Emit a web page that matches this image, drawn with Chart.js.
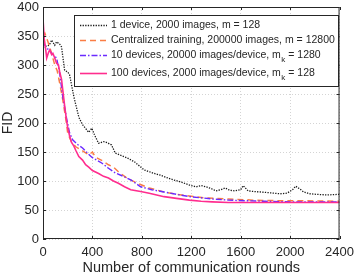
<!DOCTYPE html>
<html>
<head>
<meta charset="utf-8">
<script src="https://cdn.jsdelivr.net/npm/chart.js@4"></script>
<style>
  html, body { margin: 0; padding: 0; background: #fff; }
  #wrap { width: 360px; height: 277px; }
</style>
</head>
<body>
<div id="wrap"><canvas id="fid-chart" width="360" height="277"></canvas></div>
<script>
// 1 device, 2000 images
const roundsOne = [0, 30, 50, 70, 95, 110, 135, 150, 175, 200, 215, 250, 290, 320, 370, 395, 420, 450, 490, 520, 555, 585, 620, 680, 740, 820, 860, 900, 950, 1000, 1055, 1120, 1185, 1240, 1280, 1320, 1360, 1400, 1440, 1475, 1510, 1555, 1600, 1620, 1660, 1700, 1765, 1820, 1870, 1920, 1975, 2020, 2045, 2080, 2110, 2160, 2210, 2300, 2400];
const fidOne = [330, 333, 334, 343, 334, 340, 336, 331, 291, 288, 283, 245, 210, 197, 184, 191, 178, 165, 168, 166, 162, 148, 145, 140, 133, 119, 116, 113, 110, 106, 102, 98, 93, 90, 92, 90, 87, 83, 85, 88, 84, 83, 85, 92, 83, 82, 81, 80, 79, 78, 79, 85, 91, 86, 81, 78, 77, 76, 77];

// centralized training
const roundsCentral = [0, 15, 40, 70, 95, 115, 135, 160, 190, 200, 230, 265, 320, 370, 400, 425, 480, 530, 570, 610, 680, 765, 860, 980, 1080, 1185, 1300, 1500, 1700, 1900, 2100, 2400];
const fidCentral = [350, 355, 340, 320, 300, 290, 269, 240, 200, 182, 168, 159, 152, 145, 150, 141, 135, 128, 124, 116, 105, 96, 88, 81, 77, 74, 71, 69, 67, 66, 66, 65];

// 10 devices
const roundsTen = [0, 20, 50, 80, 110, 135, 160, 190, 215, 240, 280, 320, 360, 395, 435, 475, 530, 585, 650, 710, 790, 880, 980, 1080, 1185, 1280, 1370, 1500, 1635, 1800, 2000, 2200, 2400];
const fidTen = [340, 332, 325, 318, 312, 286, 245, 209, 183, 171, 163, 157, 148, 141, 136, 131, 122, 114, 108, 102, 90, 85, 81, 77, 73, 71, 69, 67, 66, 65, 64, 64, 64];

// 100 devices
const roundsHundred = [0, 10, 20, 30, 45, 55, 70, 80, 95, 110, 125, 135, 150, 160, 175, 190, 200, 215, 230, 250, 265, 290, 320, 345, 370, 400, 450, 490, 530, 570, 610, 660, 710, 790, 860, 980, 1080, 1185, 1280, 1370, 1500, 1700, 1900, 2100, 2400];
const fidHundred = [380, 345, 330, 312, 322, 326, 318, 320, 312, 303, 300, 288, 275, 257, 230, 205, 192, 178, 167, 160, 153, 142, 136, 128, 124, 118, 113, 108, 105, 100, 96, 90, 85, 82, 79, 73, 70, 67, 65, 64, 63, 63, 63, 63, 63];

const xTicks = [0, 400, 800, 1200, 1600, 2000, 2400];
const yTicks = [0, 50, 100, 150, 200, 250, 300, 350, 400];

// legend label parts: [main text, subscript, rest]
const legendLabels = [
  ["1 device, 2000 images, m = 128"],
  ["Centralized training, 200000 images, m = 12800"],
  ["10 devices, 20000 images/device, m", "k", " = 1280"],
  ["100 devices, 2000 images/device, m", "k", " = 128"],
];

const FONT = "'Liberation Sans', Arial, sans-serif";

function toPoints(xs, ys) {
  return xs.map((x, i) => ({ x: x, y: ys[i] }));
}

// box, inward ticks and legend drawn like the matlab figure
const matlabLook = {
  id: "matlabLook",
  afterDraw(chart) {
    const ctx = chart.ctx;
    const a = chart.chartArea;
    const xs = chart.scales.x;
    const ys = chart.scales.y;
    ctx.save();
    ctx.strokeStyle = "#262626";
    ctx.lineWidth = 1;
    ctx.strokeRect(a.left + 0.5, a.top + 0.5, a.right - a.left - 1, a.bottom - a.top - 1);
    ctx.beginPath();
    xTicks.forEach((v) => {
      const px = Math.round(xs.getPixelForValue(v)) + 0.5;
      ctx.moveTo(px, a.bottom); ctx.lineTo(px, a.bottom - 3);
      ctx.moveTo(px, a.top); ctx.lineTo(px, a.top + 3);
    });
    yTicks.forEach((v) => {
      const py = Math.round(ys.getPixelForValue(v)) + 0.5;
      ctx.moveTo(a.left, py); ctx.lineTo(a.left + 3, py);
      ctx.moveTo(a.right, py); ctx.lineTo(a.right - 3, py);
    });
    ctx.stroke();

    // legend
    const lx = 74, ly = 15, lw = 264, lh = 71;
    ctx.fillStyle = "#fff";
    ctx.fillRect(lx, ly, lw, lh);
    ctx.strokeRect(lx + 0.5, ly + 0.5, lw, lh);
    const rowY = [25, 40, 55, 73];
    chart.data.datasets.forEach((ds, i) => {
      const y = rowY[i] + 0.5;
      ctx.strokeStyle = ds.borderColor;
      ctx.lineWidth = ds.borderWidth;
      ctx.setLineDash(ds.borderDash || []);
      ctx.beginPath();
      ctx.moveTo(80, y); ctx.lineTo(107, y);
      ctx.stroke();
      ctx.setLineDash([]);
      const parts = legendLabels[i];
      ctx.fillStyle = "#262626";
      ctx.textBaseline = "middle";
      ctx.font = "10.5px " + FONT;
      let tx = 111;
      ctx.fillText(parts[0], tx, y);
      tx += ctx.measureText(parts[0]).width;
      if (parts.length > 1) {
        ctx.font = "8px " + FONT;
        ctx.fillText(parts[1], tx + 0.5, y + 4);
        tx += ctx.measureText(parts[1]).width + 0.5;
        ctx.font = "10.5px " + FONT;
        ctx.fillText(parts[2], tx, y);
      }
    });
    ctx.restore();
  },
};

const data = {
  datasets: [
    {
      label: "1 device",
      data: toPoints(roundsOne, fidOne),
      borderColor: "#1a1a1a",
      borderWidth: 1.3,
      borderDash: [1.3, 1.3],
      order: 3,
    },
    {
      label: "Centralized",
      data: toPoints(roundsCentral, fidCentral),
      borderColor: "#fa7d45",
      borderWidth: 1.5,
      borderDash: [6, 4],
      order: 2,
    },
    {
      label: "10 devices",
      data: toPoints(roundsTen, fidTen),
      borderColor: "#6b2bff",
      borderWidth: 1.4,
      borderDash: [6, 2, 1.5, 2],
      order: 1,
    },
    {
      label: "100 devices",
      data: toPoints(roundsHundred, fidHundred),
      borderColor: "#ff2d8e",
      borderWidth: 1.6,
      order: 0,
    },
  ],
};

const gridStyle = {
  color: "#d4d4d4",
  lineWidth: 1,
  drawTicks: false,
};

const config = {
  type: "line",
  data: data,
  options: {
    responsive: false,
    animation: false,
    elements: { point: { radius: 0 }, line: { tension: 0 } },
    layout: { padding: { top: 7, right: 13, left: 0, bottom: 0 } },
    plugins: {
      legend: { display: false },
      tooltip: { enabled: false },
    },
    scales: {
      x: {
        type: "linear",
        min: 0,
        max: 2400,
        afterBuildTicks: (s) => { s.ticks = xTicks.map((v) => ({ value: v })); },
        afterFit: (s) => { s.height = 38; },
        grid: gridStyle,
        border: { display: false, dash: [1, 2] },
        ticks: { color: "#262626", font: { family: FONT, size: 13 }, padding: 6, maxRotation: 0, callback: (v) => String(v) },
        title: { display: true, text: "Number of communication rounds", color: "#262626", font: { family: FONT, size: 14.5 }, padding: { top: 0, bottom: 0 } },
      },
      y: {
        min: 0,
        max: 400,
        afterBuildTicks: (s) => { s.ticks = yTicks.map((v) => ({ value: v })); },
        afterFit: (s) => { s.width = 43; s.paddingTop = 0; s.paddingBottom = 0; },
        grid: gridStyle,
        border: { display: false, dash: [1, 2] },
        ticks: { color: "#262626", font: { family: FONT, size: 13 }, padding: 4, callback: (v) => String(v) },
        title: { display: true, text: "FID", color: "#262626", font: { family: FONT, size: 14 }, padding: 0 },
      },
    },
  },
  plugins: [matlabLook],
};

new Chart(document.getElementById("fid-chart"), config);
</script>
</body>
</html>
